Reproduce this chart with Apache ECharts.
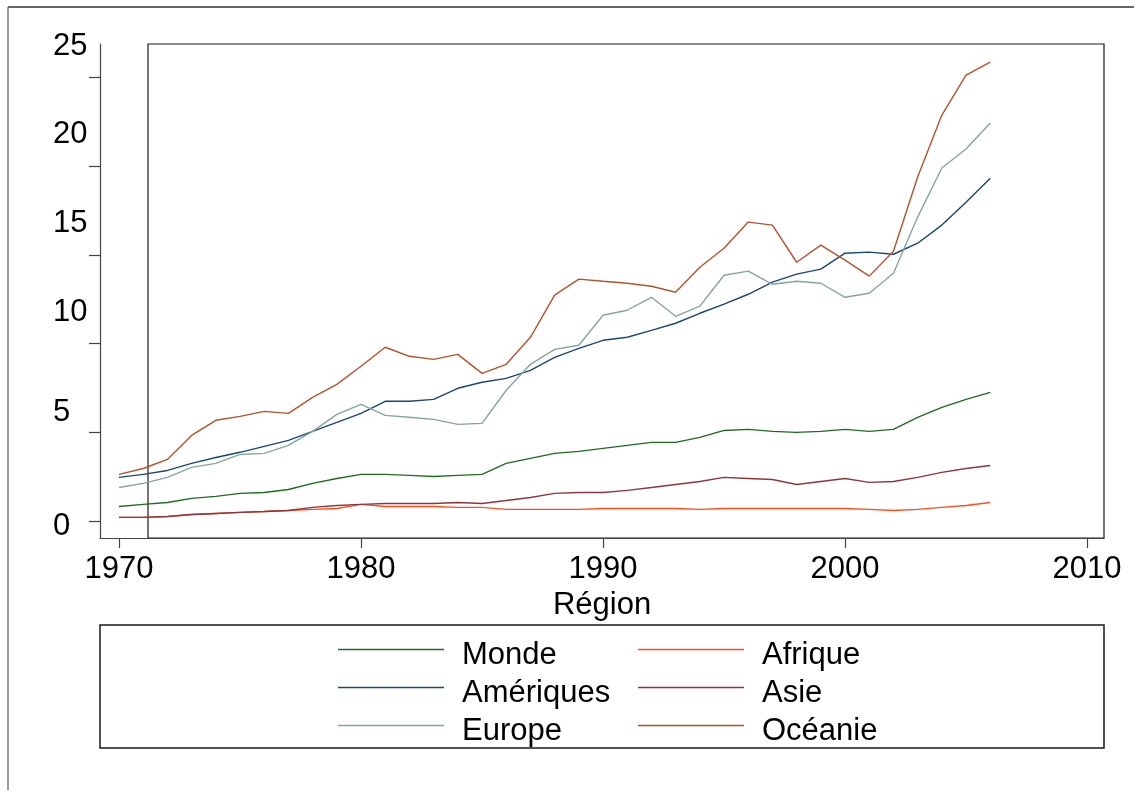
<!DOCTYPE html>
<html>
<head>
<meta charset="utf-8">
<script src="https://cdn.jsdelivr.net/npm/echarts@6/dist/echarts.min.js"></script>
<style>
html,body{margin:0;padding:0;background:#fff;}
#c{width:1134px;height:790px;}
</style>
</head>
<body>
<div id="c"></div>
<script>
const years = [1970,1971,1972,1973,1974,1975,1976,1977,1978,1979,1980,1981,1982,1983,1984,1985,1986,1987,1988,1989,1990,1991,1992,1993,1994,1995,1996,1997,1998,1999,2000,2001,2002,2003,2004,2005,2006];
const monde = [0.84,0.96,1.07,1.30,1.41,1.58,1.63,1.80,2.14,2.42,2.65,2.65,2.59,2.53,2.59,2.65,3.27,3.55,3.83,3.94,4.11,4.28,4.45,4.45,4.73,5.12,5.18,5.07,5.01,5.07,5.18,5.07,5.18,5.86,6.42,6.87,7.26];
const ameriques = [2.48,2.65,2.87,3.27,3.60,3.89,4.22,4.56,5.07,5.57,6.08,6.76,6.76,6.87,7.49,7.83,8.05,8.50,9.23,9.74,10.19,10.36,10.75,11.15,11.71,12.22,12.78,13.46,13.91,14.19,15.09,15.15,15.03,15.65,16.67,17.96,19.31];
const europe = [1.91,2.14,2.48,3.04,3.27,3.77,3.83,4.28,5.07,6.02,6.59,5.97,5.86,5.74,5.46,5.52,7.38,8.84,9.68,9.91,11.60,11.88,12.61,11.54,12.11,13.85,14.08,13.34,13.51,13.40,12.61,12.84,13.96,17.12,19.88,20.95,22.41];
const afrique = [0.23,0.23,0.28,0.39,0.45,0.51,0.56,0.62,0.68,0.73,0.96,0.84,0.84,0.84,0.79,0.79,0.68,0.68,0.68,0.68,0.73,0.73,0.73,0.73,0.68,0.73,0.73,0.73,0.73,0.73,0.73,0.68,0.62,0.68,0.79,0.90,1.07];
const asie = [0.23,0.23,0.28,0.39,0.45,0.51,0.56,0.62,0.79,0.90,0.96,1.01,1.01,1.01,1.07,1.01,1.18,1.35,1.58,1.63,1.63,1.75,1.91,2.08,2.25,2.48,2.42,2.36,2.08,2.25,2.42,2.20,2.25,2.48,2.76,2.98,3.15];
const oceanie = [2.65,2.98,3.49,4.84,5.69,5.91,6.19,6.08,6.98,7.71,8.73,9.80,9.29,9.12,9.40,8.33,8.84,10.36,12.73,13.63,13.51,13.40,13.23,12.89,14.30,15.37,16.84,16.67,14.58,15.54,14.70,13.80,15.20,19.37,22.86,25.11,25.84];
const xTicks = [1970,1980,1990,2000,2010];
const yTicks = [0,5,10,15,20,25];
const seriesNames = ['Monde','Amériques','Europe','Afrique','Asie','Océanie'];
const seriesColors = ['#1f6b1f','#1a476f','#84a69a','#ff4d1a','#90353b','#b4532d'];
const seriesValues = [monde, ameriques, europe, afrique, asie, oceanie];

const FF = '"Liberation Sans", Arial, Helvetica, sans-serif';
const chart = echarts.init(document.getElementById('c'), null, {renderer:'canvas'});

const yRich = {
  hi: {fontSize:31, fontFamily:FF, color:'#000', padding:[0,0,62,0]},
  mid:{fontSize:31, fontFamily:FF, color:'#000', padding:[0,0,40,0]},
  lo: {fontSize:31, fontFamily:FF, color:'#000', padding:[10,0,0,0]}
};

const legendBase = {
  orient:'vertical', top:623, icon:'rect',
  itemWidth:106, itemHeight:1.5, itemGap:-5, selectedMode:false,
  formatter: n => '{t|' + n + '}',
  textStyle:{fontSize:31, fontFamily:FF, color:'#000',
    rich:{t:{fontSize:31, lineHeight:31, fontFamily:FF, color:'#000', padding:[12,0,0,13]}}}
};

const option = {
  animation:false,
  backgroundColor:'#fff',
  grid:[
    {left:100, right:30, top:44, bottom:252, show:false},
    {left:148, right:30, top:44, bottom:252, show:true, borderColor:'#1a1a1a', borderWidth:1.2, backgroundColor:'transparent'}
  ],
  xAxis:[
    {type:'value', gridIndex:0, min:1969.215, max:2010.70,
     axisLine:{show:true, onZero:false, lineStyle:{color:'#444', width:1.2}},
     axisTick:{show:true, inside:false, length:10, customValues:xTicks, lineStyle:{color:'#444', width:1.2}},
     axisLabel:{show:true, customValues:xTicks, margin:16, fontSize:31, fontFamily:FF, color:'#000', formatter:v=>String(v)},
     splitLine:{show:false},
     name:'Région', nameLocation:'middle', nameGap:45,
     nameTextStyle:{fontSize:31, fontFamily:FF, color:'#000'}},
    {type:'value', gridIndex:1, show:false, min:0, max:1}
  ],
  yAxis:[
    {type:'value', gridIndex:0, min:-0.93, max:26.856,
     axisLine:{show:true, onZero:false, lineStyle:{color:'#444', width:1.2}},
     axisTick:{show:true, inside:false, length:11, customValues:yTicks, lineStyle:{color:'#444', width:1.2}},
     axisLabel:{show:true, customValues:yTicks, margin:47, align:'left',
       formatter:v=>{ const t = String(v); return v>=10 ? '{hi|'+t+'}' : (v===5 ? '{mid|'+t+'}' : '{lo|'+t+'}'); },
       rich:yRich},
     splitLine:{show:false}},
    {type:'value', gridIndex:1, show:false, min:0, max:1}
  ],
  legend:[
    Object.assign({data:['Monde','Amériques','Europe'], left:333}, legendBase),
    Object.assign({data:['Afrique','Asie','Océanie'], left:633}, legendBase)
  ],
  graphic:[
    {type:'rect', shape:{x:100, y:625, width:1004, height:123}, style:{fill:'none', stroke:'#1a1a1a', lineWidth:1.5}, silent:true},
    {type:'line', shape:{x1:8, y1:7, x2:1134, y2:7}, style:{stroke:'#333', lineWidth:1.5}, silent:true},
    {type:'line', shape:{x1:8, y1:7, x2:8, y2:790}, style:{stroke:'#777', lineWidth:1.5}, silent:true}
  ],
  series: seriesNames.map((n,i)=>({
    name:n, type:'line', xAxisIndex:0, yAxisIndex:0,
    data: years.map((y,j)=>[y, seriesValues[i][j]]),
    symbol:'none', showSymbol:false, smooth:false,
    lineStyle:{color:seriesColors[i], width:1.4},
    itemStyle:{color:seriesColors[i]},
    emphasis:{disabled:true}
  }))
};
chart.setOption(option);
</script>
</body>
</html>
